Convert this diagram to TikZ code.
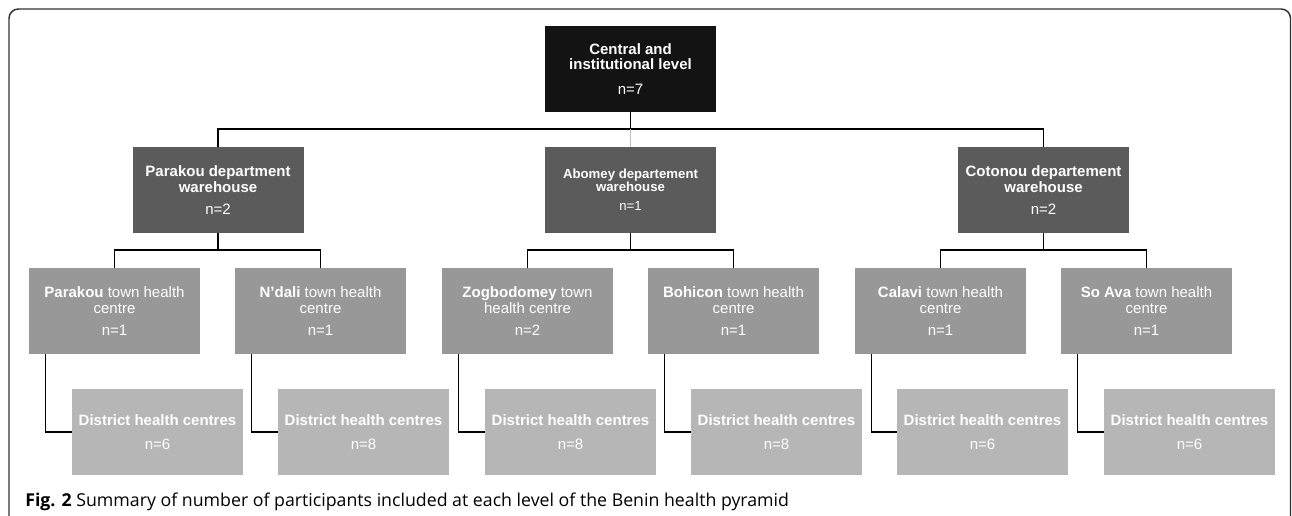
\documentclass[tikz,border=0pt]{standalone}
\usepackage{fontspec}
\setmainfont{Liberation Sans}
\newfontfamily\captionfont{Open Sans}
\usetikzlibrary{positioning}

\definecolor{topgrey}{HTML}{131313}
\definecolor{depgrey}{HTML}{5B5B5B}
\definecolor{towngrey}{HTML}{989898}
\definecolor{distgrey}{HTML}{B6B6B6}
\definecolor{framegrey}{HTML}{333333}

\begin{document}
\begin{tikzpicture}
		[
			x=0.75pt, y=-0.75pt,
			align=center,
			box/.style={rectangle, inner sep=0pt, minimum width=128.25pt, minimum height=64.5pt, text=white, font=\fontsize{11.25}{11.6}\selectfont},
			topbox/.style={box, fill=topgrey},
			depbox/.style={box, fill=depgrey},
			townbox/.style={box, fill=towngrey},
			distbox/.style={box, fill=distgrey},
			link/.style={line width=1.1pt, black},
			faint/.style={line width=0.6pt, black!25},
			frame/.style={line width=1.1pt, framegrey, rounded corners=7pt},
			caption/.style={font=\captionfont\fontsize{13.3}{15}\selectfont, inner sep=0pt}
		]

		\useasboundingbox (0,0) rectangle (1292,516);

		% frame
		\draw[frame] (9,517) -- (9,9) -- (1290.5,9) -- (1290.5,517);

		% central level
		\node[topbox] (central) at ( 630.5,  69 ) {\textbf{Central and}\\\textbf{institutional level}\\[7pt]n=7};

		% department warehouses
		\node[depbox] (pdep) at ( 218.0, 190 ) {\textbf{Parakou department}\\\textbf{warehouse}\\[5pt]n=2};
		\node[depbox, font=\fontsize{9.9}{9.8}\selectfont] (adep) at ( 630.5, 190 ) {\textbf{Abomey departement}\\\textbf{warehouse}\\[4.5pt]n=1};
		\node[depbox] (cdep) at ( 1043.5, 190 ) {\textbf{Cotonou departement}\\\textbf{warehouse}\\[5pt]n=2};

		% town health centres
		\node[townbox] (ptown) at ( 114.5, 311 ) {\textbf{Parakou} town health\\centre\\[5pt]n=1};
		\node[townbox] (ntown) at ( 320.5, 311 ) {\textbf{N’dali} town health\\centre\\[5pt]n=1};
		\node[townbox] (ztown) at ( 527.5, 311 ) {\textbf{Zogbodomey} town\\health centre\\[5pt]n=2};
		\node[townbox] (btown) at ( 733.5, 311 ) {\textbf{Bohicon} town health\\centre\\[5pt]n=1};
		\node[townbox] (ctown) at ( 940.5, 311 ) {\textbf{Calavi} town health\\centre\\[5pt]n=1};
		\node[townbox] (stown) at ( 1146.5, 311 ) {\textbf{So Ava} town health\\centre\\[5pt]n=1};

		% district health centres
		\foreach \name/\x/\n in {pdist/157.5/6, ndist/363.5/8, zdist/570.5/8, bdist/776.5/8, cdist/982.5/6, sdist/1189.5/6}
		\node[distbox] (\name) at ( \x, 432 ) {\textbf{District health centres}\\[6pt]n=\n};

		% central to departments
		\coordinate (bus) at ( 630.5, 129 );
		\draw[link] (central.south) -- (bus);
		\draw[link] (pdep.north) |- (bus) -| (cdep.north);
		\draw[faint] (bus) -- (adep.north);

		% departments to towns
		\foreach \dep/\first/\second in {pdep/ptown/ntown, adep/ztown/btown, cdep/ctown/stown}
		{
			\draw[link] (\dep.south) -- (\dep.south |- 0,250);
			\draw[link] (\first.north) |- (\dep.south |- 0,250) -| (\second.north);
		}

		% towns to districts
		\foreach \from/\to in {ptown/pdist, ntown/ndist, ztown/zdist, btown/bdist, ctown/cdist, stown/sdist}
		\draw[link] ([xshift=12.75pt]\from.south west) |- (\to.west);

		% caption
		\node[caption, anchor=base west] (cap) at ( 25, 506 ) {\textbf{Fig. 2} Summary of number of participants included at each level of the Benin health pyramid};

	\end{tikzpicture}
\end{document}
